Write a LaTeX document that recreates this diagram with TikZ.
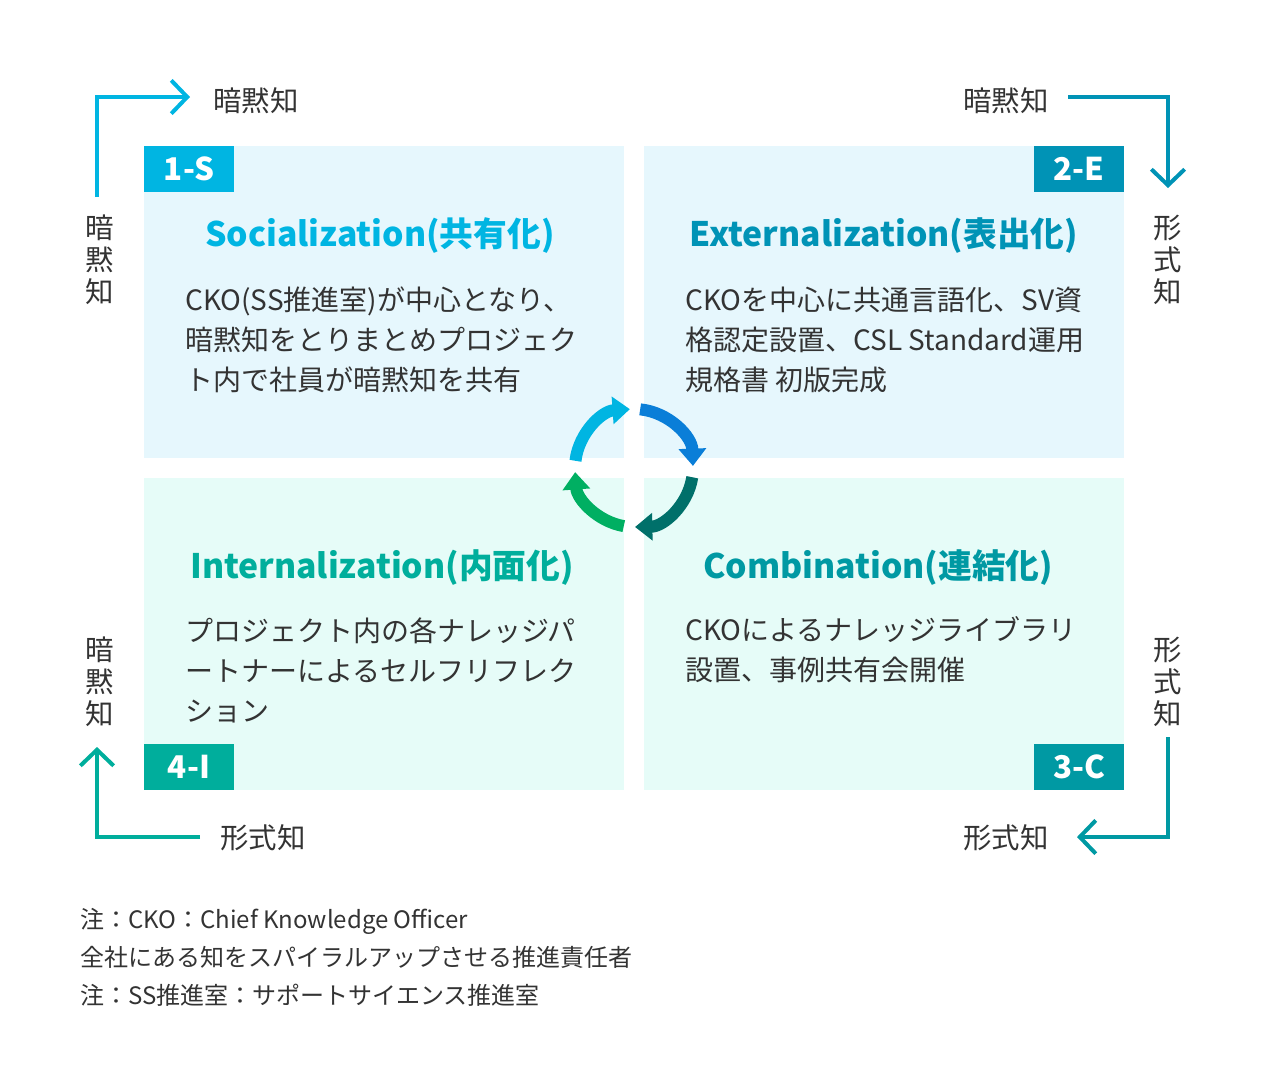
\documentclass[tikz,border=0pt]{standalone}
\usepackage{fontspec}
\setmainfont{Noto Sans CJK JP}
\usetikzlibrary{arrows.meta}
\definecolor{cyanS}{HTML}{00B5E2}
\definecolor{blueE}{HTML}{0093B6}
\definecolor{tealC}{HTML}{0099A3}
\definecolor{greenI}{HTML}{00AE9C}
\definecolor{paleTop}{HTML}{E6F7FD}
\definecolor{paleBot}{HTML}{E6FCF8}
\definecolor{ink}{HTML}{333333}
\definecolor{cycBlue}{HTML}{0A7ED8}
\definecolor{cycDark}{HTML}{00706A}
\definecolor{cycGreen}{HTML}{00AF62}

\begin{document}
\begin{tikzpicture}[x=0.75pt,y=-0.75pt,
	quad/.style={minimum width=360pt,minimum height=234pt,inner sep=0pt},
	tag/.style={minimum width=67.5pt,minimum height=34.5pt,inner sep=0pt,text=white,font=\bfseries\fontsize{23.5pt}{23.5pt}\selectfont},
	ttl/.style={inner sep=0pt,font=\bfseries\fontsize{25.3pt}{25.3pt}\selectfont},
	body/.style={anchor=west,align=left,inner sep=0pt,text=ink,font=\fontsize{21pt}{30pt}\selectfont},
	lbl/.style={inner sep=0pt,text=ink,font=\fontsize{21.3pt}{24pt}\selectfont},
	vlbl/.style={lbl,align=center},
	side/.style={line width=3pt,-{Straight Barb[length=12pt,width=25pt]}},
	cyc/.style={line width=9pt,-{Triangle[width=20pt,length=13pt]}}]
		\useasboundingbox (0,0) rectangle (1266,1090);
		% four quadrants
		\node[quad,fill=paleTop] (soc) at (384,302) {};
		\node[quad,fill=paleTop] (ext) at (884,302) {};
		\node[quad,fill=paleBot] (int) at (384,634) {};
		\node[quad,fill=paleBot] (com) at (884,634) {};
		\node[tag,fill=cyanS] (tagS) at (189,169) {1-S};
		\node[tag,fill=blueE] (tagE) at (1079,169) {2-E};
		\node[tag,fill=greenI] (tagI) at (189,767) {4-I};
		\node[tag,fill=tealC] (tagC) at (1079,767) {3-C};
		\node[ttl,text=cyanS] (ttlS) at (380,236) {Socialization(共有化)};
		\node[ttl,text=blueE] (ttlE) at (884,236) {Externalization(表出化)};
		\node[ttl,text=greenI] (ttlI) at (382,568) {Internalization(内面化)};
		\node[ttl,text=tealC] (ttlC) at (878,568) {Combination(連結化)};
		\node[body] (txtS) at (185,340) {CKO(SS推進室)が中心となり、\\暗黙知をとりまとめプロジェク\\ト内で社員が暗黙知を共有};
		\node[body] (txtE) at (685,340) {CKOを中心に共通言語化、SV資\\格認定設置、CSL Standard運用\\規格書 初版完成};
		\node[body] (txtI) at (185,670) {プロジェクト内の各ナレッジパ\\ートナーによるセルフリフレク\\ション};
		\node[body] (txtC) at (685,650) {CKOによるナレッジライブラリ\\設置、事例共有会開催};
		% cycle in the middle
		\coordinate (hub) at (634,468);
		\draw[cyc,cycBlue] (hub) ++(-84:59) arc[start angle=-84,end angle=-2,radius=59];
		\draw[cyc,cycDark] (hub) ++(9:59) arc[start angle=9,end angle=89,radius=59];
		\draw[cyc,cycGreen] (hub) ++(100:59) arc[start angle=100,end angle=176,radius=59];
		\draw[cyc,cyanS] (hub) ++(-173:59) arc[start angle=-173,end angle=-94,radius=59];
		% outer labels
		\node[lbl] (hTL) at (256,101) {暗黙知};
		\node[vlbl] (vTL) at (100,260) {暗\\黙\\知};
		\node[lbl] (hTR) at (1006,101) {暗黙知};
		\node[vlbl] (vTR) at (1168,260) {形\\式\\知};
		\node[vlbl] (vBR) at (1168,682) {形\\式\\知};
		\node[lbl] (hBR) at (1006,838) {形式知};
		\node[lbl] (hBL) at (263,838) {形式知};
		\node[vlbl] (vBL) at (100,682) {暗\\黙\\知};
		\coordinate (tlS) at (97,197);
		\coordinate (tlE) at (190,97);
		\coordinate (trS) at (1068,97);
		\coordinate (trE) at (1168,188);
		\coordinate (brS) at (1168,737);
		\coordinate (brE) at (1077,837);
		\coordinate (blS) at (200,837);
		\coordinate (blE) at (97,747);
		\draw[side,cyanS] (tlS) |- (tlE);
		\draw[side,blueE] (trS) -| (trE);
		\draw[side,tealC] (brS) |- (brE);
		\draw[side,greenI] (blS) -| (blE);
		% notes
		\node[anchor=west,align=left,inner sep=0pt,text=ink,font=\fontsize{18pt}{28.5pt}\selectfont] (notes) at (80,957) {注：CKO：Chief Knowledge Officer\\全社にある知をスパイラルアップさせる推進責任者\\注：SS推進室：サポートサイエンス推進室};
	\end{tikzpicture}
\end{document}
